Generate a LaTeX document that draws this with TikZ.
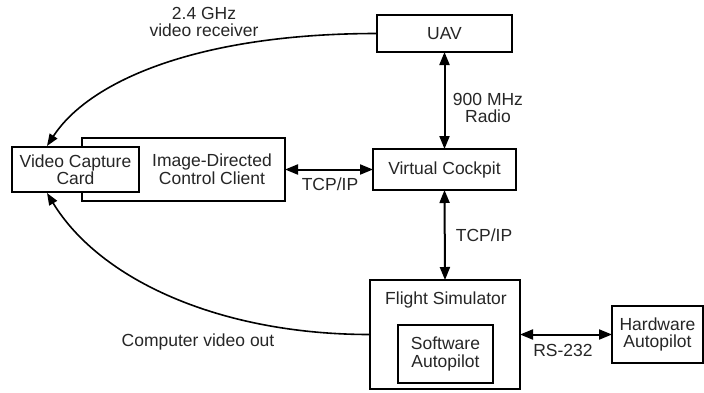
\documentclass[tikz,border=0pt]{standalone}
\usepackage{fontspec}
\setmainfont{Liberation Sans}
\usetikzlibrary{arrows.meta,calc}
\begin{document}
\begin{tikzpicture}[x=1pt,y=-1pt,
  txt/.style={font=\fontsize{17.5}{17.5}\selectfont, align=center, inner sep=0pt, text=black!85},
  blk/.style={draw, line width=2pt, fill=white, inner sep=0pt, outer sep=0pt, txt},
  conn/.style={line width=2pt, {Triangle[length=13pt,width=10pt]}-{Triangle[length=13pt,width=10pt]}},
  curv/.style={line width=1.6pt, -{Triangle[length=12pt,width=9pt]}}
]
\useasboundingbox (0,0) rectangle (704,392);
% boxes
\node[blk, minimum width=135pt, minimum height=37pt] (uav) at (444.5,33.5) {UAV};
\node[blk, minimum width=143pt, minimum height=41pt] (vc) at (444.5,169.5) {Virtual Cockpit};
\node[blk, minimum width=203pt, minimum height=63pt] (idcc) at (183.5,169.5) {};
\node[txt] (idcctext) at (212,169) {Image-Directed\\Control Client};
\node[blk, minimum width=127pt, minimum height=45pt] (vcc) at (75.5,169.5) {Video Capture\\Card};
\node[blk, minimum width=150pt, minimum height=109pt] (fs) at (445,334.5) {};
\node[txt] (fstext) at (446,300) {Flight Simulator};
\node[blk, minimum width=95pt, minimum height=58pt] (sa) at (445.5,354) {Software\\Autopilot};
\node[blk, minimum width=91pt, minimum height=57pt] (ha) at (657.5,334.5) {Hardware\\Autopilot};
% straight connectors
\draw[conn] (uav.south) -- (vc.north);
\draw[conn] (idcc.east) -- (vc.west);
\draw[conn] (vc.south) -- (fs.north);
\draw[conn] (fs.east) -- (ha.west);
% curved connectors
\coordinate (vcctop) at (47,146);
\coordinate (vccbot) at (47,193);
\draw[curv] (uav.west) .. controls (200,33.5) and (90,80) .. (vcctop);
\draw[curv] (fs.west) .. controls (220,334.5) and (100,280) .. (vccbot);
% labels
\node[txt] (l1) at (204,22) {2.4 GHz\\video receiver};
\node[txt] (l2) at (488,108) {900 MHz\\Radio};
\node[txt] (l3) at (330,184) {TCP/IP};
\node[txt] (l4) at (484,235) {TCP/IP};
\node[txt] (l5) at (563,350) {RS-232};
\node[txt] (l6) at (198,342) {Computer video out};
\end{tikzpicture}
\end{document}
